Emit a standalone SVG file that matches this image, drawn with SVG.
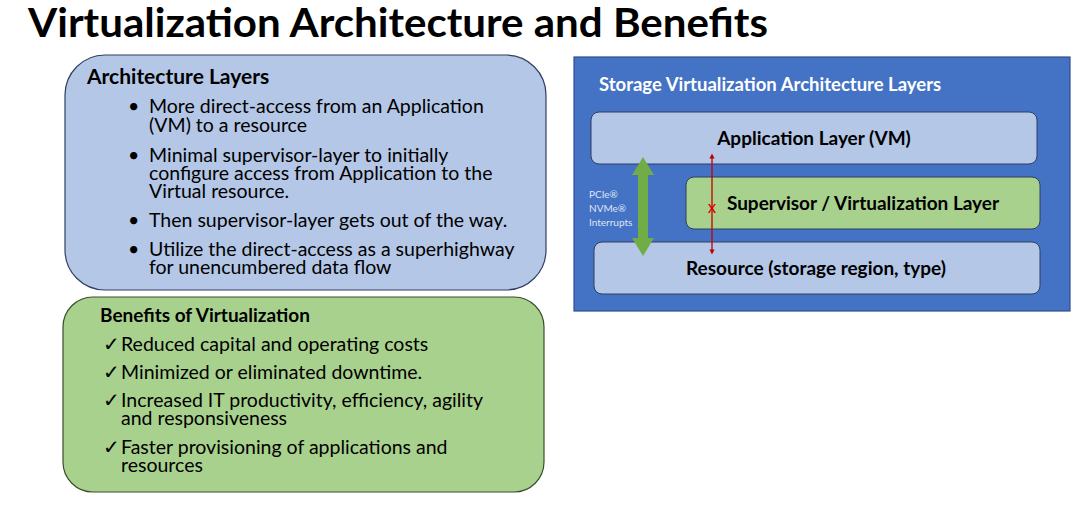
<svg xmlns="http://www.w3.org/2000/svg" width="1080" height="512" viewBox="0 0 1080 512">
<style>
text{font-family:Lato,"Open Sans",sans-serif;fill:#000}
.b{font-weight:bold}
.t{font-size:19.5px}
.l{font-size:19px;font-weight:bold;text-anchor:middle}
.s{font-size:10px}
</style>
<defs>
<marker id="ra" viewBox="0 0 10 10" refX="5" refY="5" markerWidth="4" markerHeight="4" orient="auto-start-reverse"><path d="M0,0L10,5L0,10z" fill="#c00000"/></marker>
</defs>
<rect width="1080" height="512" fill="#fff"/>
<text x="28" y="37" class="b" font-size="40" textLength="740" lengthAdjust="spacingAndGlyphs">Virtualization Architecture and Benefits</text>
<g id="arch">
<rect x="65" y="55" width="481" height="235" rx="40" fill="#b4c7e7" stroke="#2f3f5f" stroke-width="1.2"/>
<text x="87" y="84" class="b" font-size="21">Architecture Layers</text>
<text x="128" y="113" class="t">•</text><text x="149" y="113" class="t">More direct-access from  an Application</text>
<text x="149" y="132" class="t">(VM) to a resource</text>
<text x="128" y="162" class="t">•</text><text x="149" y="162" class="t">Minimal supervisor-layer to initially</text>
<text x="149" y="180" class="t">configure access from Application to the</text>
<text x="149" y="198" class="t">Virtual resource.</text>
<text x="128" y="227" class="t">•</text><text x="149" y="227" class="t">Then supervisor-layer gets out of the way.</text>
<text x="128" y="256" class="t">•</text><text x="149" y="256" class="t">Utilize the direct-access as a superhighway</text>
<text x="149" y="274" class="t">for unencumbered data flow</text>
</g>
<g id="benefits">
<rect x="63" y="297" width="481" height="195" rx="30" fill="#a9d18e" stroke="#3a4f2a" stroke-width="1.2"/>
<text x="100" y="322" class="b" font-size="19">Benefits of Virtualization</text>
<text x="103" y="351" class="t">✓</text><text x="121" y="351" class="t">Reduced capital and operating costs</text>
<text x="103" y="379" class="t">✓</text><text x="121" y="379" class="t">Minimized or eliminated downtime.</text>
<text x="103" y="407" class="t">✓</text><text x="121" y="407" class="t">Increased IT productivity, efficiency, agility</text>
<text x="121" y="425" class="t">and responsiveness</text>
<text x="103" y="454" class="t">✓</text><text x="121" y="454" class="t">Faster provisioning of applications and</text>
<text x="121" y="472" class="t">resources</text>
</g>
<g id="panel">
<rect x="574" y="57" width="496" height="254" fill="#4472c4" stroke="#2f4f8f" stroke-width="1.2"/>
<text x="599" y="91" class="b" font-size="18.5" style="fill:#fff">Storage Virtualization Architecture Layers</text>
</g>
<g id="app">
<rect x="591" y="112" width="446" height="52" rx="8" fill="#b4c7e7" stroke="#2f3f5f"/>
<text x="814" y="145" class="l">Application Layer (VM)</text>
</g>
<g id="supervisor">
<rect x="686" y="177" width="354" height="52" rx="8" fill="#a9d18e" stroke="#2f3f5f"/>
<text x="863" y="210" class="l">Supervisor / Virtualization Layer</text>
</g>
<g id="resource">
<rect x="594" y="242" width="446" height="52" rx="8" fill="#b4c7e7" stroke="#2f3f5f"/>
<text x="816" y="275" class="l">Resource (storage region, type)</text>
</g>
<g id="connectors">
<path d="M643,157L654,175H648V238H654L643,256L632,238H638V175H632Z" fill="#70ad47"/>
<line x1="712" y1="156" x2="712" y2="252" stroke="#c00000" stroke-width="1.3" marker-start="url(#ra)" marker-end="url(#ra)"/>
<text x="712" y="213" font-size="17" text-anchor="middle" style="fill:#e00000">x</text>
<text x="589" y="198" class="s" style="fill:#dfe6f5">PCIe®</text>
<text x="589" y="212" class="s" style="fill:#dfe6f5">NVMe®</text>
<text x="589" y="226" class="s" style="fill:#dfe6f5">Interrupts</text>
</g>
</svg>
